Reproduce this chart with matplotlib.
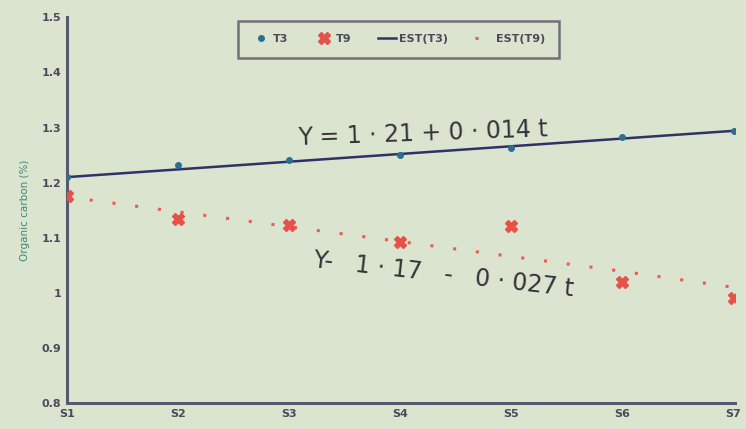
import matplotlib.pyplot as plt

stages = ["S1", "S2", "S3", "S4", "S5", "S6", "S7"]
t3 = [1.21, 1.232, 1.241, 1.25, 1.263, 1.283, 1.294]
t9 = [1.176, 1.134, 1.123, 1.092, 1.121, 1.02, 0.99]
est_t3 = [1.21, 1.224, 1.238, 1.252, 1.266, 1.28, 1.294]
est_t9 = [1.174, 1.147, 1.12, 1.093, 1.066, 1.039, 1.01]
yticks = [0.8, 0.9, 1, 1.1, 1.2, 1.3, 1.4, 1.5]
ytick_labels = ["0.8", "0.9", "1", "1.1", "1.2", "1.3", "1.4", "1.5"]

bg = "#dbe4cf"
fig = plt.figure(figsize=(7.46, 4.29), dpi=100, facecolor=bg)
ax = fig.add_axes([0.0898, 0.0606, 0.895, 0.899], facecolor=bg)

x = list(range(len(stages)))
ax.plot(x, t3, linestyle="none", marker="o", ms=4, color="#2b6f95", label="T3", zorder=4)
ax.plot(x, t9, linestyle="none", marker="X", ms=8, color="#e8504a", label="T9", zorder=4)
ax.plot(x, est_t3, color="#2e3266", lw=1.8, label="EST(T3)", zorder=3)
ax.plot(x, est_t9, color="#ee5a50", lw=2.2, linestyle=(0, (1, 6.5)), label="EST(T9)", zorder=3)

ax.set_xlim(0, 6.01)
ax.set_ylim(0.8, 1.5)
ax.set_xticks(x)
ax.set_xticklabels(stages)
ax.set_yticks(yticks)
ax.set_yticklabels(ytick_labels)
ax.tick_params(length=0, labelsize=8, labelcolor="#4a4a5a", pad=4)
for lab in ax.get_xticklabels() + ax.get_yticklabels():
    lab.set_fontweight("bold")

for s in ["top", "right"]:
    ax.spines[s].set_visible(False)
for s in ["left", "bottom"]:
    ax.spines[s].set_color("#555a6e")
    ax.spines[s].set_linewidth(2.2)

ax.set_ylabel("Organic carbon (%)", fontsize=7.5, color="#3d8a78", labelpad=8)

leg = ax.legend(loc="upper center", bbox_to_anchor=(0.4965, 1.005), ncol=4, frameon=True,
                fontsize=8, handlelength=1.6, handletextpad=0.3, columnspacing=2.4,
                fancybox=False, borderpad=1.2)
leg.get_frame().set_facecolor(bg)
leg.get_frame().set_edgecolor("#555566")
leg.get_frame().set_linewidth(1.8)
for txt in leg.get_texts():
    txt.set_fontweight("bold")
    txt.set_color("#4a4a5a")

ax.text(2.08, 1.268, "Y = 1 · 21 + 0 · 014 t", fontsize=17, color="#333338",
        rotation=2, rotation_mode="anchor", ha="left", va="baseline")
ax.text(2.21, 1.047, "Y-   1 · 17   -   0 · 027 t", fontsize=17, color="#333338",
        rotation=-6.4, rotation_mode="anchor", ha="left", va="baseline")

fig.savefig("out.png", dpi=100, facecolor=bg)
